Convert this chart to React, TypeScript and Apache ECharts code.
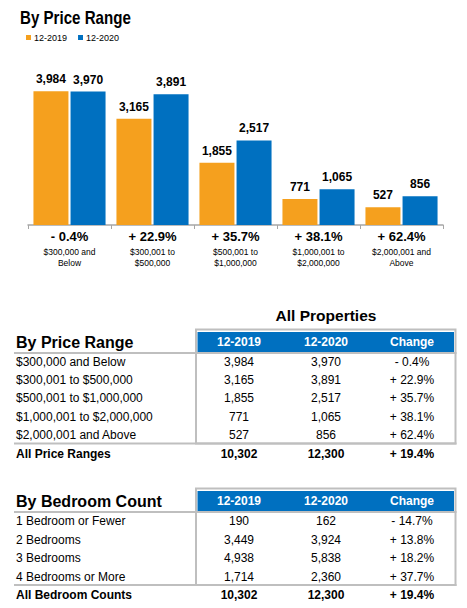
import React, { useEffect, useRef } from "react";
import * as echarts from "echarts";

// ---- Data ----
const chartCategories = [
  "$300,000 and\nBelow",
  "$300,001 to\n$500,000",
  "$500,001 to\n$1,000,000",
  "$1,000,001 to\n$2,000,000",
  "$2,000,001 and\nAbove",
];
const seriesNames = ["12-2019", "12-2020"];
const values2019 = [3984, 3165, 1855, 771, 527];
const values2020 = [3970, 3891, 2517, 1065, 856];
const priceChanges = ["- 0.4%", "+ 22.9%", "+ 35.7%", "+ 38.1%", "+ 62.4%"];

const priceRangeRows = [
  "$300,000 and Below",
  "$300,001 to $500,000",
  "$500,001 to $1,000,000",
  "$1,000,001 to $2,000,000",
  "$2,000,001 and Above",
];
const priceTotal = ["All Price Ranges", "10,302", "12,300", "+ 19.4%"];

const bedroomRows = ["1 Bedroom or Fewer", "2 Bedrooms", "3 Bedrooms", "4 Bedrooms or More"];
const bed2019 = [190, 3449, 4938, 1714];
const bed2020 = [162, 3924, 5838, 2360];
const bedChanges = ["- 14.7%", "+ 13.8%", "+ 18.2%", "+ 37.7%"];
const bedTotal = ["All Bedroom Counts", "10,302", "12,300", "+ 19.4%"];

const tableHeaders = ["12-2019", "12-2020", "Change"];

const ORANGE = "#F5A01E";
const BLUE = "#0070C0";
const GRAY = "#BFBFBF";
const FONT = "Liberation Sans, Arial, sans-serif";

const fmt = (n: number) => n.toLocaleString("en-US");

function buildTable(
  title: string,
  rowLabels: string[],
  c1: number[],
  c2: number[],
  c3: string[],
  total: string[],
  frameTop: number,
  rowStart: number,
  rowStep: number,
  frameBottom: number,
  totalY: number
) {
  const els: any[] = [];
  const left = 14;
  const frameLeft = 196;
  const frameRight = 455.5;
  const colX = [239, 326, 412];
  const headerTop = frameTop + 2.5;
  const headerBottom = headerTop + 20;
  const headerMid = (headerTop + headerBottom) / 2;
  els.push({
    type: "rect",
    shape: { x: frameLeft, y: frameTop, width: frameRight - frameLeft, height: frameBottom - frameTop },
    style: { fill: "none", stroke: GRAY, lineWidth: 2 },
  });
  els.push({
    type: "rect",
    shape: { x: frameLeft + 1.5, y: headerTop, width: frameRight - frameLeft - 3, height: headerBottom - headerTop },
    style: { fill: BLUE },
  });
  els.push({
    type: "line",
    shape: { x1: left, y1: headerBottom + 1, x2: frameRight + 1, y2: headerBottom + 1 },
    style: { stroke: GRAY, lineWidth: 2 },
  });
  els.push({
    type: "line",
    shape: { x1: left, y1: frameBottom, x2: frameRight + 1, y2: frameBottom },
    style: { stroke: GRAY, lineWidth: 2 },
  });
  els.push({
    type: "text",
    x: 16,
    y: headerMid,
    style: { text: title, fontSize: 16, fontWeight: "bold", fontFamily: FONT, fill: "#000", verticalAlign: "middle", align: "left" },
  });
  tableHeaders.forEach((h, i) => {
    els.push({
      type: "text",
      x: colX[i],
      y: headerMid,
      style: { text: h, fontSize: 12, fontWeight: "bold", fontFamily: FONT, fill: "#fff", verticalAlign: "middle", align: "center" },
    });
  });
  rowLabels.forEach((lab, r) => {
    const y = rowStart + r * rowStep;
    const cells = [fmt(c1[r]), fmt(c2[r]), c3[r]];
    els.push({
      type: "text",
      x: 16,
      y,
      style: { text: lab, fontSize: 12, fontFamily: FONT, fill: "#000", verticalAlign: "middle", align: "left" },
    });
    cells.forEach((c, i) => {
      els.push({
        type: "text",
        x: colX[i],
        y,
        style: { text: c, fontSize: 12, fontFamily: FONT, fill: "#000", verticalAlign: "middle", align: "center" },
      });
    });
  });
  els.push({
    type: "text",
    x: 16,
    y: totalY,
    style: { text: total[0], fontSize: 12, fontWeight: "bold", fontFamily: FONT, fill: "#000", verticalAlign: "middle", align: "left" },
  });
  total.slice(1).forEach((t, i) => {
    els.push({
      type: "text",
      x: colX[i],
      y: totalY,
      style: { text: t, fontSize: 12, fontWeight: "bold", fontFamily: FONT, fill: "#000", verticalAlign: "middle", align: "center" },
    });
  });
  return els;
}

export default function App() {
  const ref = useRef<HTMLDivElement>(null);
  useEffect(() => {
    if (!ref.current) return;
    const chart = echarts.init(ref.current, null, { renderer: "svg" });
    const labelStyle = {
      show: true,
      position: "top",
      distance: 6,
      fontSize: 12,
      fontWeight: "bold",
      fontFamily: FONT,
      color: "#000",
      formatter: (p: any) => fmt(p.value),
    };
    chart.setOption({
      animation: false,
      backgroundColor: "#fff",
      textStyle: { fontFamily: FONT },
      legend: {
        left: 26,
        top: 33,
        padding: 0,
        itemWidth: 5,
        itemHeight: 5,
        itemGap: 11,
        icon: "rect",
        data: seriesNames,
        textStyle: { fontSize: 9, color: "#000", fontFamily: FONT, padding: [0, 0, 0, -2] },
      },
      grid: { left: 28, right: 24, top: 57, bottom: 383 },
      xAxis: {
        type: "category",
        data: chartCategories,
        axisLine: { lineStyle: { color: "#A6A6A6", width: 1.5 } },
        axisTick: { show: true, length: 4, lineStyle: { color: "#A6A6A6" } },
        axisLabel: {
          margin: 1.5,
          interval: 0,
          formatter: (val: string, idx: number) => {
            const lines = val.split("\n").map((l) => `{c|${l}}`).join("\n");
            return `{p|${priceChanges[idx]}}\n${lines}`;
          },
          rich: {
            p: { fontSize: 13, fontWeight: "bold", lineHeight: 20, color: "#000", fontFamily: FONT },
            c: { fontSize: 8.5, lineHeight: 11.2, color: "#000", fontFamily: FONT },
          },
        },
      },
      yAxis: { type: "value", min: 0, max: 5000, show: false, splitLine: { show: false } },
      series: [
        {
          name: seriesNames[0],
          type: "bar",
          data: values2019,
          barWidth: 35,
          barGap: "6%",
          itemStyle: { color: ORANGE },
          label: labelStyle,
        },
        {
          name: seriesNames[1],
          type: "bar",
          data: values2020,
          barWidth: 35,
          itemStyle: { color: BLUE },
          label: labelStyle,
        },
      ],
      graphic: [
        {
          type: "text",
          x: 20,
          y: 18.5,
          scaleX: 0.84,
          style: { text: "By Price Range", fontSize: 18, fontWeight: "bold", fontFamily: FONT, fill: "#000", verticalAlign: "middle" },
        },
        {
          type: "text",
          x: 326,
          y: 315,
          style: { text: "All Properties", fontSize: 15.5, fontWeight: "bold", fontFamily: FONT, fill: "#000", verticalAlign: "middle", align: "center" },
        },
        ...buildTable("By Price Range", priceRangeRows, values2019, values2020, priceChanges, priceTotal, 329.5, 361.7, 18.3, 443.5, 454),
        ...buildTable("By Bedroom Count", bedroomRows, bed2019, bed2020, bedChanges, bedTotal, 488.5, 521, 18.6, 585, 595),
      ],
    });
    return () => chart.dispose();
  }, []);
  return <div ref={ref} style={{ position: "absolute", left: 0, top: 0, width: 467, height: 608 }} />;
}
